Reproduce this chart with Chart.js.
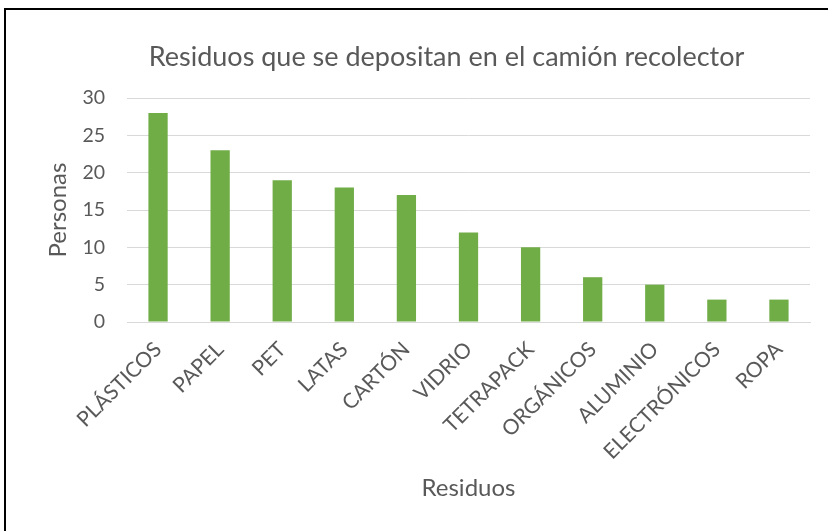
<!DOCTYPE html>
<html>
<head>
<meta charset="utf-8">
<script src="https://cdn.jsdelivr.net/npm/chart.js@4.4.0/dist/chart.umd.min.js"></script>
<style>
  html, body { margin: 0; padding: 0; background: #fff; }
  #wrap { width: 828px; height: 531px; position: relative; }
</style>
</head>
<body>
<div id="wrap"><canvas id="residuosChart" width="828" height="531"></canvas></div>
<script>
// Categorías y valores
const categorias = ['PLÁSTICOS', 'PAPEL', 'PET', 'LATAS', 'CARTÓN', 'VIDRIO', 'TETRAPACK', 'ORGÁNICOS', 'ALUMINIO', 'ELECTRÓNICOS', 'ROPA'];
const personas = [28, 23, 19, 18, 17, 12, 10, 6, 5, 3, 3];
const ticksY = [0, 5, 10, 15, 20, 25, 30];

const gris = '#595959';
const fuente = 'Lato, "Open Sans", sans-serif';

// Marco negro (solo arriba e izquierda, como en la imagen)
const marco = {
    id: 'marco',
    afterDraw(chart) {
        const c = chart.ctx;
        c.save();
        c.strokeStyle = '#000';
        c.lineWidth = 2;
        c.beginPath();
        c.moveTo(5, 531);
        c.lineTo(5, 9);
        c.lineTo(828, 9);
        c.stroke();
        c.restore();
    }
};

const ctx = document.getElementById('residuosChart').getContext('2d');
const chart = new Chart(ctx, {
    type: 'bar',
    data: {
        labels: categorias,
        datasets: [{
            label: 'Personas',
            data: personas,
            backgroundColor: '#70ad47',
            barPercentage: 0.97,
            categoryPercentage: 0.32
        }]
    },
    options: {
        responsive: false,
        animation: false,
        layout: { padding: { top: 41, left: 83, right: 18, bottom: 20 } },
        plugins: {
            legend: { display: false },
            tooltip: { enabled: false },
            title: {
                display: true,
                text: 'Residuos que se depositan en el camión recolector',
                color: gris,
                font: { family: fuente, size: 27, weight: 'normal' },
                padding: { top: 0, bottom: 24.6 }
            }
        },
        scales: {
            x: {
                grid: { display: false },
                border: { color: '#d9d9d9', width: 1 },
                ticks: {
                    color: gris,
                    font: { family: fuente, size: 21 },
                    maxRotation: 45,
                    minRotation: 45,
                    padding: 7,
                    autoSkip: false
                },
                title: {
                    display: true,
                    text: 'Residuos',
                    color: gris,
                    font: { family: fuente, size: 24 },
                    padding: { top: 4, bottom: 8.6 }
                },
                afterFit(scale) { scale.height = 189; }
            },
            y: {
                min: 0,
                max: 30,
                afterBuildTicks(scale) { scale.ticks = ticksY.map(v => ({ value: v })); },
                grid: { color: '#d9d9d9', drawTicks: false },
                border: { display: false },
                ticks: {
                    color: gris,
                    font: { family: fuente, size: 19.5 },
                    padding: 22
                },
                title: {
                    display: true,
                    text: 'Personas',
                    color: gris,
                    font: { family: fuente, size: 24 },
                    padding: { top: -39.4, bottom: 0 }
                },
                afterFit(scale) { scale.width = 44; }
            }
        }
    },
    plugins: [marco]
});
</script>
</body>
</html>
